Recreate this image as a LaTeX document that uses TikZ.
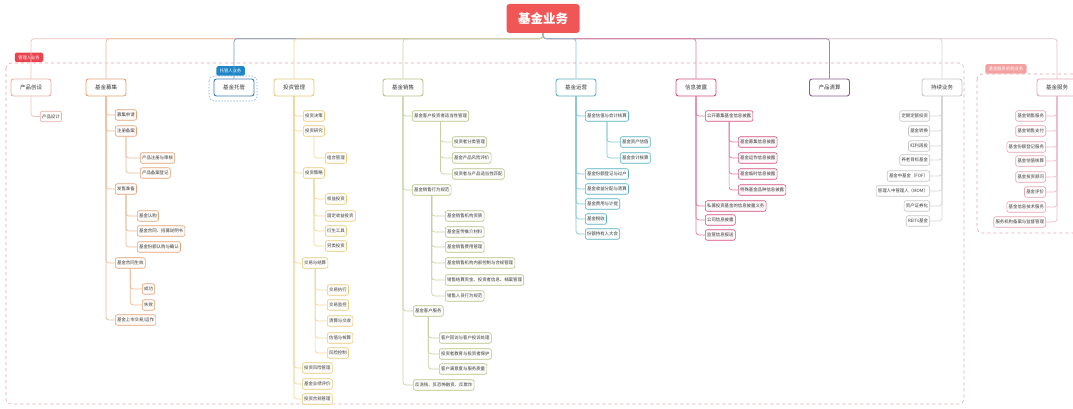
\documentclass[tikz,border=0pt]{standalone}
\usepackage{fontspec}
\newfontfamily\cjk{Noto Sans CJK SC}
\usepackage{tikz}
\usetikzlibrary{positioning, calc, backgrounds}
\definecolor{RootRed}{HTML}{F05656}
\definecolor{TextGray}{HTML}{3A3A3A}
\definecolor{TagRed}{HTML}{E8434F}
\definecolor{TagBlue}{HTML}{1E86C6}
\definecolor{TagPink}{HTML}{F3A0A0}
\definecolor{FramePink}{HTML}{E6A4AC}
\definecolor{CreatePink}{HTML}{E8ADA6}
\definecolor{RaiseOrange}{HTML}{E2A375}
\definecolor{CustodyBlue}{HTML}{3E7DB3}
\definecolor{InvestGold}{HTML}{E9C977}
\definecolor{SalesOlive}{HTML}{B4C287}
\definecolor{OpsTeal}{HTML}{58B1BF}
\definecolor{DiscloseRose}{HTML}{D64E7E}
\definecolor{ClearPurple}{HTML}{8C5B8C}
\definecolor{OngoingGray}{HTML}{C6C6C6}
\definecolor{ServicePink}{HTML}{E2A6B4}
\tikzset{
  % Box styles
  rootbox/.style={rectangle, rounded corners=3pt, fill=RootRed, text=white, minimum width=73pt, minimum height=29pt, font=\cjk\fontsize{12.5}{14}\selectfont\bfseries},
  topicbox/.style={rectangle, rounded corners=2.5pt, draw=#1, line width=0.9pt, fill=white, minimum width=40pt, minimum height=17pt, inner sep=1pt, text=TextGray, font=\cjk\fontsize{5.5}{6.5}\selectfont},
  subbox/.style={rectangle, rounded corners=2pt, draw=#1, line width=0.6pt, fill=#1!4, minimum height=10.5pt, inner sep=1.8pt, text=TextGray, font=\cjk\fontsize{4.4}{5}\selectfont},
  tagbox/.style={rectangle, rounded corners=1.5pt, fill=#1, text=white, minimum height=9.5pt, inner xsep=3.5pt, inner ysep=1.5pt, font=\cjk\fontsize{4.3}{5}\selectfont},
  % Line styles
  branchline/.style={draw=#1!75, line width=0.7pt, rounded corners=3pt},
  framebox/.style={draw=#1, dashed, line width=0.6pt, rounded corners=5pt}
}

\begin{document}
\begin{tikzpicture}[x=1pt, y=-1pt]
  \clip (0,0) rectangle (1073,409);

  % Root and main topics
  \node[rootbox] (root) at (543,18.5) {基金业务};
  \node[topicbox=CreatePink] (create) at (31,87.5) {产品创设};
  \node[topicbox=RaiseOrange] (raise) at (106,87.5) {基金募集};
  \node[topicbox=CustodyBlue] (custody) at (234,87.5) {基金托管};
  \node[topicbox=InvestGold] (invest) at (294,87.5) {投资管理};
  \node[topicbox=SalesOlive] (sales) at (403,87.5) {基金销售};
  \node[topicbox=OpsTeal] (ops) at (576,87.5) {基金运营};
  \node[topicbox=DiscloseRose] (disclose) at (696,87.5) {信息披露};
  \node[topicbox=ClearPurple] (liquidate) at (829.5,87.5) {产品清算};
  \node[topicbox=OngoingGray] (ongoing) at (942,87.5) {持续业务};
  \node[topicbox=ServicePink] (service) at (1057,87.5) {基金服务};

  % Product creation
  \node[subbox=CreatePink, anchor=west] (create1) at (40,116.5) {产品设计};

  % Fund raising
  \node[subbox=RaiseOrange, anchor=west] (raise1) at (115,115) {募集申请};
  \node[subbox=RaiseOrange, anchor=west] (raise2) at (115,131) {注册备案};
  \node[subbox=RaiseOrange, anchor=west] (raise2a) at (140,158) {产品注册与审核};
  \node[subbox=RaiseOrange, anchor=west] (raise2b) at (140,173) {产品备案登记};
  \node[subbox=RaiseOrange, anchor=west] (raise3) at (115,189) {发售准备};
  \node[subbox=RaiseOrange, anchor=west] (raise3a) at (137,216) {基金认购};
  \node[subbox=RaiseOrange, anchor=west] (raise3b) at (137,231) {基金合同、招募说明书};
  \node[subbox=RaiseOrange, anchor=west] (raise3c) at (137,247) {基金份额认购与确认};
  \node[subbox=RaiseOrange, anchor=west] (raise4) at (115,263) {基金合同生效};
  \node[subbox=RaiseOrange, anchor=west] (raise4a) at (142,289) {成功};
  \node[subbox=RaiseOrange, anchor=west] (raise4b) at (142,305) {失败};
  \node[subbox=RaiseOrange, anchor=west] (raise5) at (115,320) {基金上市交易/运作};

  % Investment management
  \node[subbox=InvestGold, anchor=west] (invest1) at (303,116) {投资决策};
  \node[subbox=InvestGold, anchor=west] (invest2) at (303,131) {投资研究};
  \node[subbox=InvestGold, anchor=west] (invest2a) at (325,158) {组合管理};
  \node[subbox=InvestGold, anchor=west] (invest3) at (303,173) {投资策略};
  \node[subbox=InvestGold, anchor=west] (invest3a) at (325,199) {权益投资};
  \node[subbox=InvestGold, anchor=west] (invest3b) at (325,216) {固定收益投资};
  \node[subbox=InvestGold, anchor=west] (invest3c) at (325,231) {衍生工具};
  \node[subbox=InvestGold, anchor=west] (invest3d) at (325,246) {另类投资};
  \node[subbox=InvestGold, anchor=west] (invest4) at (302,263) {交易与结算};
  \node[subbox=InvestGold, anchor=west] (invest4a) at (327,290) {交易执行};
  \node[subbox=InvestGold, anchor=west] (invest4b) at (327,305) {交易监控};
  \node[subbox=InvestGold, anchor=west] (invest4c) at (327,321) {清算与交收};
  \node[subbox=InvestGold, anchor=west] (invest4d) at (327,338) {估值与核算};
  \node[subbox=InvestGold, anchor=west] (invest4e) at (327,353) {风险控制};
  \node[subbox=InvestGold, anchor=west] (invest5) at (302,368) {投资风险管理};
  \node[subbox=InvestGold, anchor=west] (invest6) at (302,384) {基金业绩评价};
  \node[subbox=InvestGold, anchor=west] (invest7) at (302,399) {投资合规管理};

  % Fund sales
  \node[subbox=SalesOlive, anchor=west] (sales1) at (412,116) {基金客户投资者适当性管理};
  \node[subbox=SalesOlive, anchor=west] (sales1a) at (452,142) {投资者分类管理};
  \node[subbox=SalesOlive, anchor=west] (sales1b) at (452,158) {基金产品风险评价};
  \node[subbox=SalesOlive, anchor=west] (sales1c) at (452,174) {投资者与产品适当性匹配};
  \node[subbox=SalesOlive, anchor=west] (sales2) at (412,190) {基金销售行为规范};
  \node[subbox=SalesOlive, anchor=west] (sales2a) at (445,216) {基金销售机构资质};
  \node[subbox=SalesOlive, anchor=west] (sales2b) at (445,232) {基金宣传推介材料};
  \node[subbox=SalesOlive, anchor=west] (sales2c) at (445,247) {基金销售费用管理};
  \node[subbox=SalesOlive, anchor=west] (sales2d) at (445,263) {基金销售机构内部控制与合规管理};
  \node[subbox=SalesOlive, anchor=west] (sales2e) at (445,280) {销售结算资金、投资者信息、档案管理};
  \node[subbox=SalesOlive, anchor=west] (sales2f) at (445,296) {销售人员行为规范};
  \node[subbox=SalesOlive, anchor=west] (sales3) at (413,311) {基金客户服务};
  \node[subbox=SalesOlive, anchor=west] (sales3a) at (439,338) {客户回访与客户投诉处理};
  \node[subbox=SalesOlive, anchor=west] (sales3b) at (439,354) {投资者教育与投资者保护};
  \node[subbox=SalesOlive, anchor=west] (sales3c) at (439,369) {客户满意度与服务质量};
  \node[subbox=SalesOlive, anchor=west] (sales4) at (413,385) {反洗钱、反恐怖融资、反欺诈};

  % Fund operation
  \node[subbox=OpsTeal, anchor=west] (ops1) at (585,116) {基金估值与会计核算};
  \node[subbox=OpsTeal, anchor=west] (ops1a) at (620,142) {基金资产估值};
  \node[subbox=OpsTeal, anchor=west] (ops1b) at (620,158) {基金会计核算};
  \node[subbox=OpsTeal, anchor=west] (ops2) at (585,174) {基金份额登记与过户};
  \node[subbox=OpsTeal, anchor=west] (ops3) at (585,189) {基金收益分配与清算};
  \node[subbox=OpsTeal, anchor=west] (ops4) at (585,204) {基金费用与计提};
  \node[subbox=OpsTeal, anchor=west] (ops5) at (585,219) {基金税收};
  \node[subbox=OpsTeal, anchor=west] (ops6) at (585,234) {份额持有人大会};

  % Information disclosure
  \node[subbox=DiscloseRose, anchor=west] (disclose1) at (705,116) {公开募集基金信息披露};
  \node[subbox=DiscloseRose, anchor=west] (disclose1a) at (738,142) {基金募集信息披露};
  \node[subbox=DiscloseRose, anchor=west] (disclose1b) at (738,158) {基金运作信息披露};
  \node[subbox=DiscloseRose, anchor=west] (disclose1c) at (738,174) {基金临时信息披露};
  \node[subbox=DiscloseRose, anchor=west] (disclose1d) at (738,190) {特殊基金品种信息披露};
  \node[subbox=DiscloseRose, anchor=west] (disclose2) at (705,206) {私募投资基金的信息披露义务};
  \node[subbox=DiscloseRose, anchor=west] (disclose3) at (705,220) {公司信息披露};
  \node[subbox=DiscloseRose, anchor=west] (disclose4) at (705,235) {监管信息报送};

  % Ongoing business
  \node[subbox=OngoingGray, anchor=east] (ongoing1) at (930,116) {定期定额投资};
  \node[subbox=OngoingGray, anchor=east] (ongoing2) at (930,131) {基金转换};
  \node[subbox=OngoingGray, anchor=east] (ongoing3) at (930,146) {红利再投};
  \node[subbox=OngoingGray, anchor=east] (ongoing4) at (930,160) {养老目标基金};
  \node[subbox=OngoingGray, anchor=east] (ongoing5) at (930,176) {基金中基金（FOF）};
  \node[subbox=OngoingGray, anchor=east] (ongoing6) at (930,191) {管理人中管理人（MOM）};
  \node[subbox=OngoingGray, anchor=east] (ongoing7) at (930,206) {资产证券化};
  \node[subbox=OngoingGray, anchor=east] (ongoing8) at (930,221) {REITs基金};

  % Fund services
  \node[subbox=ServicePink, anchor=east] (service1) at (1046,116) {基金销售服务};
  \node[subbox=ServicePink, anchor=east] (service2) at (1046,131) {基金销售支付};
  \node[subbox=ServicePink, anchor=east] (service3) at (1046,147) {基金份额登记服务};
  \node[subbox=ServicePink, anchor=east] (service4) at (1046,161) {基金估值核算};
  \node[subbox=ServicePink, anchor=east] (service5) at (1046,177) {基金投资顾问};
  \node[subbox=ServicePink, anchor=east] (service6) at (1046,192) {基金评价};
  \node[subbox=ServicePink, anchor=east] (service7) at (1046,207) {基金信息技术服务};
  \node[subbox=ServicePink, anchor=east] (service8) at (1046,222) {服务机构备案与监督管理};

  \begin{scope}[on background layer]
    % Frames and tags
    \draw[framebox=FramePink] (6,63) rectangle (964,404);
    \draw[framebox=FramePink] (977,74) rectangle (1100,233);
    \draw[framebox=CustodyBlue!60, dash pattern=on 1.5pt off 1.5pt] (209,76) rectangle (257,101);
    \node[tagbox=TagRed] (tagmgr) at (29,57.5) {管理人业务};
    \node[tagbox=TagBlue] (tagcust) at (230.5,71) {托管人业务};
    \node[tagbox=TagPink] (tagsvc) at (1006,69) {基金服务机构业务};

    % Root links
    \draw[branchline=ServicePink] (root.south) -- ++(0,5.5) -| (service.north);
    \draw[branchline=CreatePink] (root.south) -- ++(0,5.5) -| (create.north);
    \draw[branchline=OngoingGray] (root.south) -- ++(0,5.5) -| (ongoing.north);
    \draw[branchline=RaiseOrange] (root.south) -- ++(0,5.5) -| (raise.north);
    \draw[branchline=ClearPurple] (root.south) -- ++(0,5.5) -| (liquidate.north);
    \draw[branchline=CustodyBlue] (root.south) -- ++(0,5.5) -| (custody.north);
    \draw[branchline=InvestGold] (root.south) -- ++(0,5.5) -| (invest.north);
    \draw[branchline=DiscloseRose] (root.south) -- ++(0,5.5) -| (disclose.north);
    \draw[branchline=SalesOlive] (root.south) -- ++(0,5.5) -| (sales.north);
    \draw[branchline=OpsTeal] (root.south) -- ++(0,5.5) -| (ops.north);

    % Branch links
    \draw[branchline=CreatePink] (create.south) |- (create1.west);
    \foreach \c in {raise1,raise2,raise3,raise4,raise5}
      \draw[branchline=RaiseOrange] (raise.south) |- (\c.west);
    \foreach \c in {raise2a,raise2b}
      \draw[branchline=RaiseOrange] (raise2.south) |- (\c.west);
    \foreach \c in {raise3a,raise3b,raise3c}
      \draw[branchline=RaiseOrange] (raise3.south) |- (\c.west);
    \foreach \c in {raise4a,raise4b}
      \draw[branchline=RaiseOrange] (raise4.south) |- (\c.west);
    \foreach \c in {invest1,invest2,invest3,invest4,invest5,invest6,invest7}
      \draw[branchline=InvestGold] (invest.south) |- (\c.west);
    \draw[branchline=InvestGold] (invest2.south) |- (invest2a.west);
    \foreach \c in {invest3a,invest3b,invest3c,invest3d}
      \draw[branchline=InvestGold] (invest3.south) |- (\c.west);
    \foreach \c in {invest4a,invest4b,invest4c,invest4d,invest4e}
      \draw[branchline=InvestGold] (invest4.south) |- (\c.west);
    \foreach \c in {sales1,sales2,sales3,sales4}
      \draw[branchline=SalesOlive] (sales.south) |- (\c.west);
    \foreach \c in {sales1a,sales1b,sales1c}
      \draw[branchline=SalesOlive] (sales1.south) |- (\c.west);
    \foreach \c in {sales2a,sales2b,sales2c,sales2d,sales2e,sales2f}
      \draw[branchline=SalesOlive] (sales2.south) |- (\c.west);
    \foreach \c in {sales3a,sales3b,sales3c}
      \draw[branchline=SalesOlive] (sales3.south) |- (\c.west);
    \foreach \c in {ops1,ops2,ops3,ops4,ops5,ops6}
      \draw[branchline=OpsTeal] (ops.south) |- (\c.west);
    \foreach \c in {ops1a,ops1b}
      \draw[branchline=OpsTeal] (ops1.south) |- (\c.west);
    \foreach \c in {disclose1,disclose2,disclose3,disclose4}
      \draw[branchline=DiscloseRose] (disclose.south) |- (\c.west);
    \foreach \c in {disclose1a,disclose1b,disclose1c,disclose1d}
      \draw[branchline=DiscloseRose] (disclose1.south) |- (\c.west);
    \foreach \c in {ongoing1,ongoing2,ongoing3,ongoing4,ongoing5,ongoing6,ongoing7,ongoing8}
      \draw[branchline=OngoingGray] (ongoing.south) |- (\c.east);
    \foreach \c in {service1,service2,service3,service4,service5,service6,service7,service8}
      \draw[branchline=ServicePink] (service.south) |- (\c.east);
  \end{scope}
\end{tikzpicture}
\end{document}
